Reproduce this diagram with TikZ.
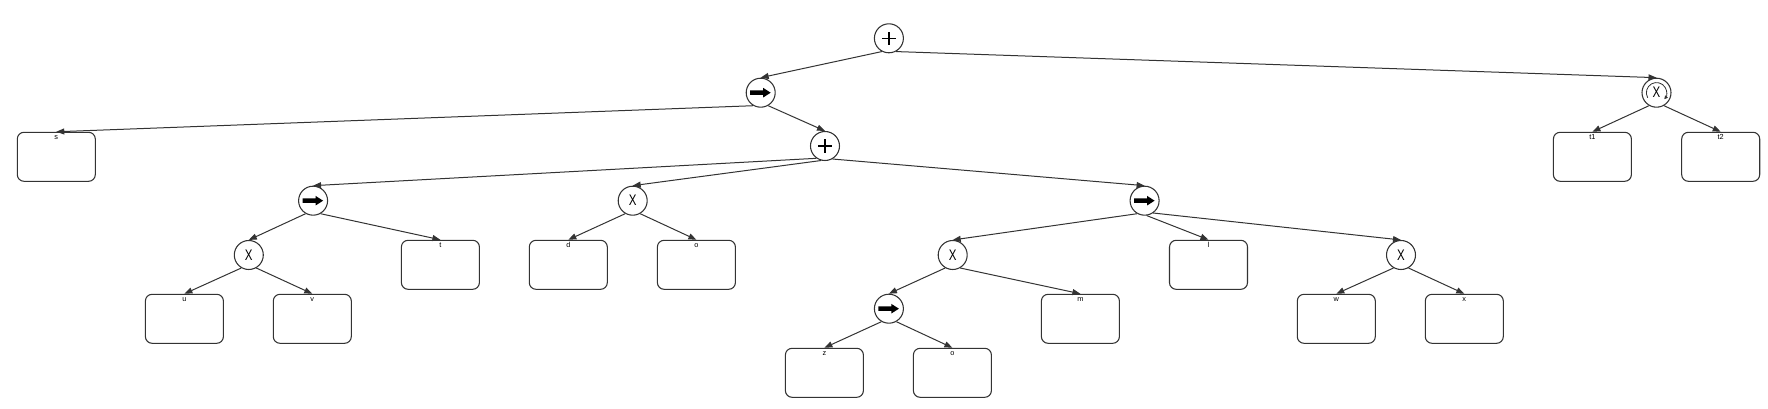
\documentclass[tikz,border=0pt]{standalone}
\usepackage{fontspec}
\setmainfont{Liberation Sans}
\usepackage{graphicx}
\usetikzlibrary{arrows.meta}
\definecolor{ln}{HTML}{333333}
\begin{document}
\begin{tikzpicture}[x=0.75pt,y=-0.75pt,
  gw/.style={circle, draw=ln, line width=0.8pt, fill=white, minimum size=21.75pt, inner sep=0pt},
  leafbox/.style={rectangle, rounded corners=5pt, draw=ln, line width=0.8pt, fill=white, minimum width=58.5pt, minimum height=36.75pt, inner sep=0pt},
  lbl/.style={font=\fontsize{5.5}{6}\selectfont, text=black, inner sep=0pt, anchor=base},
  edge/.style={draw=ln, line width=0.75pt, -{Triangle[length=6pt,width=4.5pt]}},
  xs/.style={font=\fontsize{11.5}{12}\selectfont},
  sym/.style={line width=1.1pt, black},
]
\useasboundingbox (0,0) rectangle (1768,409);

% ---------- gateway nodes ----------
\node[gw] (root) at (888.9,38.3) {};
\node[gw] (A) at (760.7,92.7) {};
\node[gw] (B) at (825,146) {};
\node[gw] (C) at (313.1,200.7) {};
\node[gw, xs] (D) at (248.8,255) {\scalebox{0.75}[1]{X}};
\node[gw, xs] (E) at (632.7,200.7) {\scalebox{0.75}[1]{X}};
\node[gw] (F) at (1144.6,200.7) {};
\node[gw, xs] (G) at (952.7,255) {\scalebox{0.75}[1]{X}};
\node[gw] (H) at (888.9,308.7) {};
\node[gw, xs] (I) at (1401,255) {\scalebox{0.75}[1]{X}};
\node[gw, xs] (J) at (1656.5,92.7) {\scalebox{0.75}[1]{X}};

% plus symbols
\foreach \n in {root,B}{
  \draw[sym] ([xshift=-5pt]\n.center) -- ([xshift=5pt]\n.center);
  \draw[sym] ([yshift=-5pt]\n.center) -- ([yshift=5pt]\n.center);
}
% thick arrow symbols
\foreach \n in {A,C,F,H}{
  \fill[black, shift={(\n.center)}] (-10.5,-2.2) -- (2.5,-2.2) -- (2.5,-4.8) -- (10,0) -- (2.5,4.8) -- (2.5,2.2) -- (-10.5,2.2) -- cycle;
}
% loop marker
\draw[ln, line width=0.6pt, -{Triangle[length=2.6pt,width=2.6pt]}] ([shift={(210:7.6pt)}]J.center) arc[start angle=210, end angle=-40, radius=7.6pt];

% ---------- leaves ----------
\newcommand{\leafnode}[4]{%
  \node[leafbox] (#1) at (#2,#3) {};
  \node[lbl] (#1l) at ([yshift=-6pt]#1.north) {#4};
}
\leafnode{s}{56.3}{156.8}{s}
\leafnode{tone}{1592.4}{156.8}{t1}
\leafnode{ttwo}{1720.7}{156.8}{t2}
\leafnode{t}{440.4}{264.8}{t}
\leafnode{d}{568.3}{264.8}{d}
\leafnode{o}{696.4}{264.8}{o}
\leafnode{l}{1208.5}{264.8}{l}
\leafnode{u}{184.4}{318.8}{u}
\leafnode{v}{312.3}{318.8}{v}
\leafnode{m}{1080.4}{318.8}{m}
\leafnode{w}{1336.3}{318.8}{w}
\leafnode{x}{1464.3}{318.8}{x}
\leafnode{z}{824.4}{372.8}{z}
\leafnode{oo}{952.4}{372.8}{o}

% ---------- edges ----------
\draw[edge] (root.-118) -- (A.north);
\draw[edge] (root.-62) -- (J.north);
\draw[edge] (A.-120) -- (s.north);
\draw[edge] (A.-60) -- (B.north);
\draw[edge] (B.-125) -- (C.north);
\draw[edge] (B.-105) -- (E.north);
\draw[edge] (B.-60) -- (F.north);
\draw[edge] (C.-120) -- (D.north);
\draw[edge] (C.-60) -- (t.north);
\draw[edge] (D.-120) -- (u.north);
\draw[edge] (D.-60) -- (v.north);
\draw[edge] (E.-120) -- (d.north);
\draw[edge] (E.-60) -- (o.north);
\draw[edge] (F.-120) -- (G.north);
\draw[edge] (F.-82) -- (l.north);
\draw[edge] (F.-55) -- (I.north);
\draw[edge] (G.-120) -- (H.north);
\draw[edge] (G.-60) -- (m.north);
\draw[edge] (H.-120) -- (z.north);
\draw[edge] (H.-60) -- (oo.north);
\draw[edge] (I.-120) -- (w.north);
\draw[edge] (I.-60) -- (x.north);
\draw[edge] (J.-120) -- (tone.north);
\draw[edge] (J.-60) -- (ttwo.north);
\end{tikzpicture}
\end{document}
